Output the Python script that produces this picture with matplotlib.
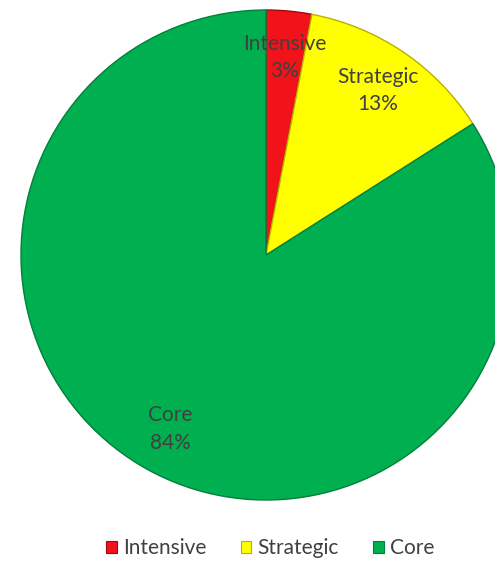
import matplotlib
matplotlib.use('Agg')
from matplotlib import pyplot as plt
from matplotlib.patches import Patch

# data
categories = ['Intensive', 'Strategic', 'Core']
shares = [3, 13, 84]
colors = ['#f2121a', '#ffff00', '#00b050']
edge_colors = ['#a00a0e', '#b8b000', '#00803a']

plt.rcParams['font.family'] = ['Lato', 'DejaVu Sans']

fig = plt.figure(figsize=(4.95, 5.63), dpi=100)
ax = fig.add_axes([0, 0, 1, 1])

labels_iter = iter(categories)


def fmt(pct):
    return '%s\n%d%%' % (next(labels_iter), round(pct))


wedges, texts, autotexts = ax.pie(
    shares, colors=colors, startangle=90, counterclock=False,
    center=(266, 308), radius=245, autopct=fmt, pctdistance=0.81,
    wedgeprops=dict(linewidth=1.0), frame=True,
    textprops=dict(color='#404040', fontsize=15, linespacing=1.45))
for w, ec in zip(wedges, edge_colors):
    w.set_edgecolor(ec)

ax.set_xlim(0, 495)
ax.set_ylim(0, 563)
ax.set_aspect('equal')
ax.axis('off')

handles = [Patch(facecolor=c, edgecolor=e, linewidth=0.8) for c, e in zip(colors, edge_colors)]
fig.legend(handles, categories, loc='center', bbox_to_anchor=(0.546, 0.026),
           ncol=3, frameon=False, fontsize=15, handlelength=0.5, handleheight=0.5,
           handletextpad=0.3, columnspacing=1.65, labelcolor='#404040')

plt.savefig('out.png', dpi=100)
